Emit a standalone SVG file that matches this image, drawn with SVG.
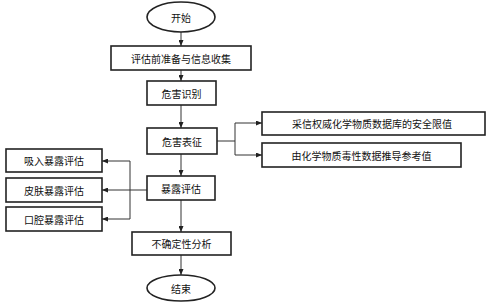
<svg xmlns="http://www.w3.org/2000/svg" width="492" height="303" viewBox="0 0 492 303">
<style>
.box{fill:#fff;stroke:#222;stroke-width:1.6}
.t{font-family:"Noto Sans CJK SC","Noto Sans",sans-serif;font-size:10px;fill:#111;text-anchor:middle;dominant-baseline:central}
.c{fill:none;stroke:#333;stroke-width:1}
</style>
<defs>
<marker id="ah" markerWidth="6" markerHeight="5" refX="6" refY="2.5" orient="auto" markerUnits="userSpaceOnUse">
<path d="M0,0 L6,2.5 L0,5 Z" fill="#222"/>
</marker>
</defs>
<rect width="492" height="303" fill="#fff"/>
<g id="connectors">
<path class="c" d="M181,32 V46" marker-end="url(#ah)"/>
<path class="c" d="M181,70 V81" marker-end="url(#ah)"/>
<path class="c" d="M181,105 V128" marker-end="url(#ah)"/>
<path class="c" d="M217,141 H235"/>
<path class="c" d="M235,123 V155"/>
<path class="c" d="M235,123 H262" marker-end="url(#ah)"/>
<path class="c" d="M235,155 H262" marker-end="url(#ah)"/>
<path class="c" d="M181,154 V176" marker-end="url(#ah)"/>
<path class="c" d="M147,190 H102" marker-end="url(#ah)"/>
<path class="c" d="M130,161 V219"/>
<path class="c" d="M130,161 H102" marker-end="url(#ah)"/>
<path class="c" d="M130,219 H102" marker-end="url(#ah)"/>
<path class="c" d="M181,200 V232" marker-end="url(#ah)"/>
<path class="c" d="M181,255 V275" marker-end="url(#ah)"/>
</g>
<g id="start"><ellipse class="box" cx="181" cy="17" rx="34" ry="15"/><text class="t" x="181" y="17">开始</text></g>
<g id="prep"><rect class="box" x="111" y="46" width="140" height="24"/><text class="t" x="181" y="58">评估前准备与信息收集</text></g>
<g id="hazard-id"><rect class="box" x="147" y="81" width="69" height="24"/><text class="t" x="181.5" y="93">危害识别</text></g>
<g id="hazard-char"><rect class="box" x="147" y="128" width="70" height="26"/><text class="t" x="182" y="141">危害表征</text></g>
<g id="limit"><rect class="box" x="262" y="112" width="223" height="23"/><text class="t" x="372" y="123.5">采信权威化学物质数据库的安全限值</text></g>
<g id="derive"><rect class="box" x="262" y="143" width="199" height="24"/><text class="t" x="361.5" y="155">由化学物质毒性数据推导参考值</text></g>
<g id="exposure"><rect class="box" x="147" y="176" width="68" height="24"/><text class="t" x="181" y="188">暴露评估</text></g>
<g id="inhale"><rect class="box" x="6" y="149" width="96" height="23"/><text class="t" x="54" y="160.5">吸入暴露评估</text></g>
<g id="skin"><rect class="box" x="6" y="178" width="96" height="24"/><text class="t" x="54" y="190">皮肤暴露评估</text></g>
<g id="oral"><rect class="box" x="6" y="207" width="96" height="24"/><text class="t" x="54" y="219">口腔暴露评估</text></g>
<g id="uncertainty"><rect class="box" x="132" y="232" width="99" height="23"/><text class="t" x="181.5" y="243.5">不确定性分析</text></g>
<g id="end"><ellipse class="box" cx="181" cy="288" rx="34" ry="13"/><text class="t" x="181" y="288">结束</text></g>
</svg>
